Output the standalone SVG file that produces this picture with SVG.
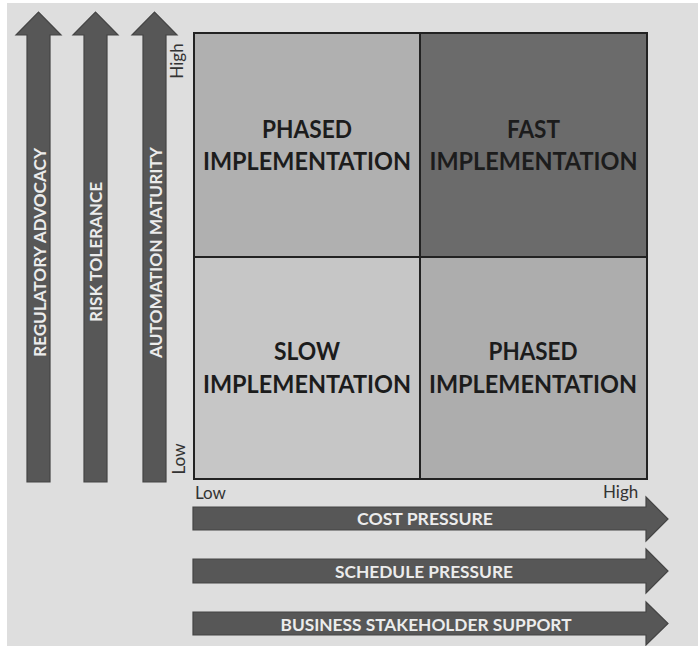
<svg xmlns="http://www.w3.org/2000/svg" width="698" height="646" viewBox="0 0 698 646">
<defs>
<style>
.arrow{fill:#575757;stroke:#444;stroke-width:1.2;stroke-linejoin:miter}
.atext{font-family:Lato,"Open Sans","Liberation Sans",sans-serif;font-weight:bold;fill:#ececec;font-size:17px}
.qtext{font-family:Lato,"Open Sans","Liberation Sans",sans-serif;font-weight:bold;fill:#1c1c1c;font-size:25px;text-anchor:middle}
.lbl{font-family:Lato,"Open Sans","Liberation Sans",sans-serif;fill:#333;font-size:17px}
.quad{stroke:#222;stroke-width:2}
</style>
</defs>
<rect x="0" y="0" width="698" height="646" fill="#ffffff"/>
<rect x="7" y="3" width="691" height="643" fill="#dedede"/>

<g id="axes">
  <g id="axis-regulatory">
    <polygon class="arrow" points="27,482 27,35 16,35 38.5,12 61,35 50,35 50,482"/>
    <text class="atext" transform="translate(46,252.5) rotate(-90)" text-anchor="middle" textLength="209" lengthAdjust="spacingAndGlyphs">REGULATORY ADVOCACY</text>
  </g>
  <g id="axis-risk">
    <polygon class="arrow" points="84,482 84,35 73,35 95.5,12 118,35 107,35 107,482"/>
    <text class="atext" transform="translate(102,252) rotate(-90)" text-anchor="middle" textLength="140" lengthAdjust="spacingAndGlyphs">RISK TOLERANCE</text>
  </g>
  <g id="axis-automation">
    <polygon class="arrow" points="143,482 143,35 132,35 154.5,12 177,35 166,35 166,482"/>
    <text class="atext" transform="translate(162,252.5) rotate(-90)" text-anchor="middle" textLength="211" lengthAdjust="spacingAndGlyphs">AUTOMATION MATURITY</text>
  </g>
  <g id="axis-cost">
    <polygon class="arrow" points="193,507 646,507 646,497 668,519 646,541 646,530 193,530"/>
    <text class="atext" x="425" y="525" text-anchor="middle" textLength="136" lengthAdjust="spacingAndGlyphs">COST PRESSURE</text>
  </g>
  <g id="axis-schedule">
    <polygon class="arrow" points="193,559 646,559 646,549 668,571 646,593 646,583 193,583"/>
    <text class="atext" x="424" y="578" text-anchor="middle" textLength="178" lengthAdjust="spacingAndGlyphs">SCHEDULE PRESSURE</text>
  </g>
  <g id="axis-business">
    <polygon class="arrow" points="193,612 646,612 646,602 668,623.5 646,645 646,635 193,635"/>
    <text class="atext" x="426" y="631" text-anchor="middle" textLength="291" lengthAdjust="spacingAndGlyphs">BUSINESS STAKEHOLDER SUPPORT</text>
  </g>
  <text class="lbl" transform="translate(183,61) rotate(-90)" text-anchor="middle">High</text>
  <text class="lbl" transform="translate(185,459) rotate(-90)" text-anchor="middle">Low</text>
  <text class="lbl" x="195" y="499">Low</text>
  <text class="lbl" x="603" y="498">High</text>
</g>

<g id="connectors"></g>

<g id="q-top-left">
  <rect class="quad" x="194" y="33" width="226" height="224" fill="#b0b0b0"/>
  <text class="qtext" x="307" y="138" textLength="90" lengthAdjust="spacingAndGlyphs">PHASED</text>
  <text class="qtext" x="307" y="170" textLength="208" lengthAdjust="spacingAndGlyphs">IMPLEMENTATION</text>
</g>
<g id="q-top-right">
  <rect class="quad" x="420" y="33" width="227" height="224" fill="#6b6b6b"/>
  <text class="qtext" x="533.5" y="138" textLength="53" lengthAdjust="spacingAndGlyphs">FAST</text>
  <text class="qtext" x="533.5" y="170" textLength="208" lengthAdjust="spacingAndGlyphs">IMPLEMENTATION</text>
</g>
<g id="q-bottom-left">
  <rect class="quad" x="194" y="257" width="226" height="222" fill="#c6c6c6"/>
  <text class="qtext" x="307" y="360" textLength="66" lengthAdjust="spacingAndGlyphs">SLOW</text>
  <text class="qtext" x="307" y="393" textLength="208" lengthAdjust="spacingAndGlyphs">IMPLEMENTATION</text>
</g>
<g id="q-bottom-right">
  <rect class="quad" x="420" y="257" width="227" height="222" fill="#adadad"/>
  <text class="qtext" x="533" y="360" textLength="89" lengthAdjust="spacingAndGlyphs">PHASED</text>
  <text class="qtext" x="533" y="393" textLength="208" lengthAdjust="spacingAndGlyphs">IMPLEMENTATION</text>
</g>
</svg>
